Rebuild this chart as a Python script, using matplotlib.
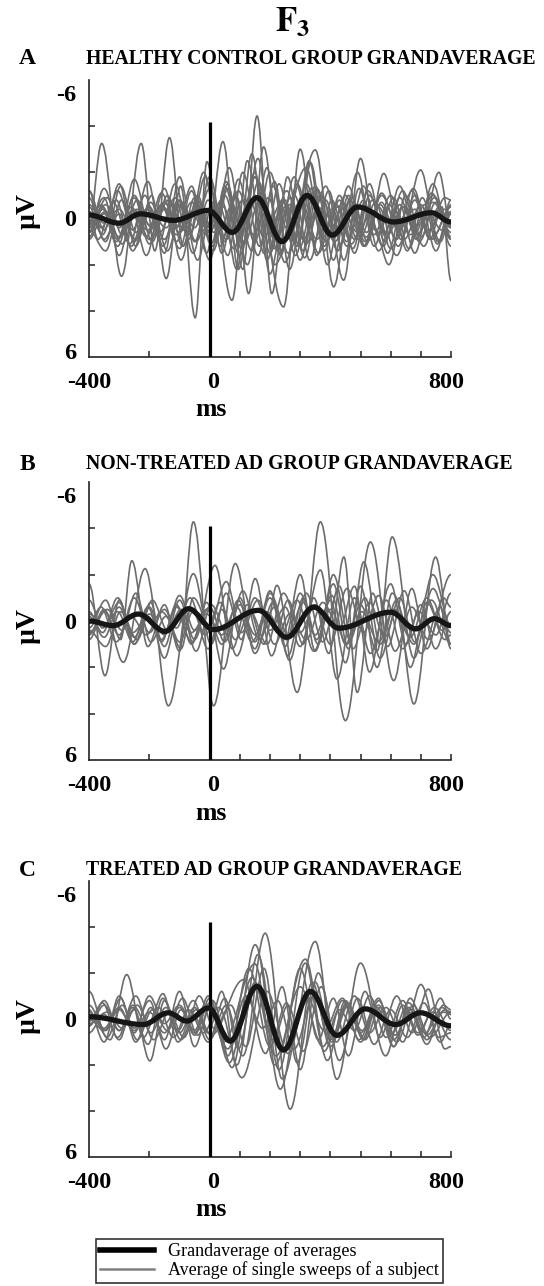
import matplotlib

matplotlib.use("Agg")
import matplotlib.pyplot as plt
from matplotlib.lines import Line2D
from matplotlib.patches import PathPatch
from matplotlib.path import Path

# ---------------------------------------------------------------------------
# Data: (ms, µV) turning points of each trace.
# Negative µV is drawn upwards (EEG convention).
# ---------------------------------------------------------------------------
panel_letters = ["A", "B", "C"]
panel_titles = [
    "HEALTHY CONTROL GROUP GRANDAVERAGE",
    "NON-TREATED AD GROUP GRANDAVERAGE",
    "TREATED AD GROUP GRANDAVERAGE",
]
stim_top = [-4.2, -4.1, -4.2]
x_tick_labels = ["-400", "0", "800"]
y_tick_labels = ["-6", "0", "6"]

grand_a = [(-400, -0.15), (-300, 0.2), (-230, -0.2), (-120, 0.08), (-5, -0.35),
           (75, 0.6), (157, -0.9), (240, 1.0), (323, -1.0), (406, 0.72),
           (490, -0.5), (610, 0.15), (735, -0.25), (800, 0.15)]
grand_b = [(-400, 0.0), (-320, 0.2), (-236, -0.3), (-148, 0.45), (-70, -0.53),
           (13, 0.37), (162, -0.46), (256, 0.7), (345, -0.6), (428, 0.31),
           (600, -0.38), (683, 0.34), (745, -0.1), (800, 0.2)]
grand_c = [(-400, -0.1), (-220, 0.24), (-137, -0.27), (-76, 0.09), (-4, -0.48),
           (68, 0.96), (157, -1.42), (245, 1.35), (334, -1.2), (422, 0.71),
           (516, -0.44), (616, 0.24), (699, -0.27), (800, 0.3)]

subjects_a = [
    [(-400, 0.3), (-358, -3.25), (-292, 2.5), (-227, -3.25), (-182, 1.4), (-133, -3.5), (-88, 1.2), (-40, -1.0), (12, 1.4), (60, -1.3), (112, 1.0), (162, -1.6), (214, 1.3), (268, -0.9), (320, 1.1), (372, -1.0), (424, 1.4), (474, -0.6), (524, 1.0), (577, -1.95), (634, 0.9), (699, -2.1), (757, 1.0), (800, -0.3)],
    [(-400, 0.5), (-345, 1.4), (-292, -0.8), (-245, 1.2), (-192, -1.0), (-144, 2.6), (-96, -1.4), (-48, 4.3), (-9, -2.46), (40, 1.5), (88, -1.0), (129, 3.25), (179, -3.1), (232, 1.5), (282, -1.0), (332, 1.8), (385, -0.8), (444, 2.67), (500, -2.6), (548, 0.5), (594, 2.0), (650, -1.0), (702, 0.8), (760, -2.0), (800, 0.4)],
    [(-400, 0.4), (-340, -0.9), (-290, 0.7), (-240, -0.8), (-190, 1.0), (-140, -1.0), (-90, 1.2), (-40, -0.8), (10, 1.2), (60, -1.5), (110, 2.2), (157, -4.44), (206, 3.25), (258, -1.8), (310, 1.4), (360, -1.2), (411, 2.96), (465, -0.8), (515, 1.0), (570, -0.7), (625, 1.2), (680, -1.0), (735, 0.9), (800, -0.5)],
    [(-400, -0.3), (-355, 0.7), (-305, -1.2), (-255, 0.5), (-205, -1.6), (-155, 1.2), (-105, -0.8), (-55, 1.5), (0, -1.8), (74, 3.54), (125, -2.5), (180, 1.5), (230, -1.5), (280, 1.0), (330, -2.5), (380, 1.2), (430, -0.8), (480, 1.5), (530, -1.0), (585, 0.8), (640, -1.2), (695, 1.0), (750, -0.7), (800, 0.9)],
    [(-400, 0.2), (-360, -0.6), (-310, 1.0), (-260, -0.5), (-210, 1.6), (-160, -0.6), (-110, 1.0), (-60, -1.2), (-10, 1.5), (44, -3.33), (95, 2.2), (150, -1.8), (200, 1.5), (250, -0.8), (300, 1.8), (355, -1.3), (410, 0.9), (460, -1.4), (515, 1.2), (565, -0.6), (620, 0.9), (670, -1.2), (725, 0.6), (780, -0.9), (800, -0.8)],
    [(-400, 0.6), (-350, -1.3), (-300, 0.4), (-250, -0.9), (-200, 1.1), (-150, -0.4), (-100, 1.3), (-50, -0.9), (0, 0.6), (50, -1.0), (100, 1.0), (150, -1.8), (245, 3.83), (300, -3.0), (355, 1.6), (405, -0.8), (455, 1.2), (510, -1.4), (560, 0.6), (610, -0.9), (660, 1.3), (712, -0.6), (765, 1.0), (800, -0.2)],
    [(-400, -1.2), (-350, 0.5), (-300, -1.5), (-250, 1.0), (-200, -0.5), (-150, 1.5), (-100, -1.8), (-50, 1.0), (-5, -0.8), (45, 0.8), (95, -1.2), (150, 1.0), (200, -2.0), (260, 1.5), (350, -2.97), (410, 1.8), (460, -1.0), (510, 1.2), (560, -0.5), (620, 1.6), (680, -0.8), (730, 0.9), (770, -0.5), (800, 2.7)],
    [(-400, -0.3), (-370, 0.9), (-320, -0.7), (-265, 1.1), (-215, -1.0), (-165, 0.9), (-115, -1.5), (-65, 0.7), (-15, -1.8), (35, 1.2), (85, -1.0), (140, 1.4), (190, -2.2), (235, 1.6), (290, -1.5), (345, 1.0), (395, -1.2), (445, 1.8), (495, -1.3), (545, 0.7), (600, -1.0), (655, 1.4), (705, -0.9), (755, 1.1), (800, -0.8)],
    [(-400, 0.8), (-355, -0.4), (-305, 1.2), (-250, -1.0), (-200, 0.6), (-150, -1.3), (-95, 1.8), (-45, -0.6), (5, 1.1), (55, -1.6), (105, 1.3), (160, -2.6), (215, 2.0), (320, -2.2), (380, 1.4), (430, -1.0), (480, 0.9), (530, -1.5), (580, 1.0), (630, -0.6), (680, 1.5), (735, -1.1), (800, 0.6)],
    [(-400, -0.5), (-345, 1.0), (-295, -1.4), (-245, 0.6), (-195, -0.7), (-140, 1.4), (-90, -0.6), (-40, 1.8), (10, -0.7), (60, 1.6), (110, -2.0), (165, 1.2), (215, -1.6), (265, 2.2), (320, -1.5), (375, 0.8), (425, -0.5), (475, 1.3), (525, -1.2), (580, 0.6), (630, -1.4), (685, 0.9), (740, -1.5), (800, 1.2)],
    [(-400, 0.1), (-350, -0.9), (-300, 1.6), (-255, -0.3), (-210, 0.8), (-160, -1.1), (-110, 0.4), (-60, -1.4), (-15, 0.7), (40, -0.8), (90, 2.2), (140, -2.8), (190, 1.8), (240, -0.8), (290, 1.2), (335, -2.4), (390, 2.0), (440, -0.7), (490, 0.9), (540, -0.8), (590, 1.5), (640, -0.5), (690, 0.7), (745, -0.9), (800, 0.9)],
    [(-400, -1.2), (-360, 0.4), (-310, -0.8), (-260, 1.2), (-210, -0.4), (-165, 0.6), (-115, -0.9), (-70, 0.9), (-20, -2.0), (30, 0.6), (75, -0.6), (125, 2.0), (175, -1.2), (225, 1.4), (280, -1.8), (330, 0.4), (385, -1.4), (435, 1.1), (490, -2.0), (545, 1.2), (595, -0.6), (645, 0.9), (700, -0.6), (750, 1.4), (800, -0.6)],
    [(-400, 0.9), (-350, -0.2), (-300, 0.8), (-250, -1.7), (-200, 0.3), (-150, -0.7), (-100, 0.6), (-50, -0.4), (0, 1.8), (50, -1.4), (100, 0.7), (150, -2.0), (200, 2.4), (250, -0.5), (300, 1.2), (350, -1.4), (400, 0.7), (450, -1.0), (500, 0.8), (550, -0.7), (600, 1.3), (655, -0.3), (710, 1.2), (760, -0.5), (800, 0.8)],
    [(-400, 0.3), (-355, -0.5), (-305, 0.9), (-255, -0.2), (-205, 0.5), (-160, -0.6), (-110, 0.7), (-60, -0.3), (-20, 0.5), (30, -0.6), (80, 1.3), (130, -0.9), (180, 0.8), (235, -0.6), (285, 1.6), (335, -1.3), (385, 1.0), (440, -0.4), (490, 0.6), (540, -0.3), (590, 0.7), (640, -0.5), (690, 0.3), (740, -0.7), (800, 0.4)],
    [(-400, -0.6), (-350, 0.2), (-300, -0.4), (-245, 0.9), (-195, -0.3), (-145, 0.4), (-95, -0.6), (-45, 1.0), (0, -0.4), (50, 1.0), (95, -1.7), (145, 0.7), (195, -0.9), (250, 1.9), (305, -0.7), (355, 0.9), (405, -0.4), (455, 1.0), (510, -0.8), (560, 1.4), (615, -0.3), (665, 0.7), (720, -0.3), (770, 0.5), (800, 0.2)],
    [(-400, 0.4), (-345, -0.3), (-290, 1.1), (-240, -0.4), (-190, 0.4), (-135, -0.8), (-85, 0.5), (-35, -0.5), (15, 0.6), (65, -2.2), (115, 1.1), (165, -0.8), (215, 0.9), (265, -0.6), (315, 1.7), (365, -1.0), (420, 0.4), (470, -0.9), (520, 0.6), (570, -1.0), (625, 0.4), (675, -1.3), (725, 0.5), (780, -0.4), (800, -0.2)],
    [(-400, -0.9), (-350, 0.9), (-300, -0.2), (-255, 1.4), (-200, -0.5), (-150, 0.9), (-100, -0.8), (-50, 0.4), (0, -1.3), (55, 0.9), (110, -0.8), (160, 1.6), (210, -1.4), (255, 0.4), (310, -1.0), (360, 1.5), (420, -0.6), (470, 1.1), (520, -0.4), (575, 1.2), (630, -0.9), (680, 0.6), (740, -1.0), (800, 0.3)],
    [(-400, 0.6), (-345, -0.6), (-300, 0.3), (-250, -0.4), (-200, 0.9), (-155, -0.5), (-105, 0.3), (-60, -0.7), (-10, 0.4), (45, -0.5), (100, 1.6), (150, -1.0), (205, 0.6), (255, -1.2), (310, 0.9), (360, -0.5), (415, 1.0), (465, -0.4), (520, 0.8), (570, -1.1), (625, 0.5), (680, -0.4), (735, 0.9), (800, -0.5)],
]

subjects_b = [
    [(-400, 0.3), (-345, -0.9), (-295, 0.8), (-258, -2.6), (-205, 1.1), (-150, -0.7), (-100, 1.3), (-54, -4.28), (13, 3.66), (85, -2.48), (150, 1.4), (210, -0.8), (260, 1.5), (310, -1.0), (355, 0.8), (410, -1.6), (460, 1.2), (511, -2.55), (565, 1.0), (620, -0.9), (677, 3.58), (749, -2.76), (800, 1.0)],
    [(-400, -1.6), (-347, 2.36), (-300, -0.9), (-250, 1.0), (-195, -0.8), (-137, 3.66), (-54, -2.04), (5, 1.0), (55, -1.2), (105, 0.8), (151, -1.83), (205, 1.5), (260, -0.9), (310, 1.0), (367, -4.28), (450, 4.3), (533, -3.41), (610, 2.57), (670, -1.4), (720, 1.2), (775, -1.0), (800, -0.6)],
    [(-400, 0.6), (-350, -0.5), (-286, 1.78), (-214, -2.26), (-160, 0.9), (-110, -0.7), (-60, 1.0), (-10, -0.8), (46, 2.07), (100, -1.0), (150, 0.9), (200, -1.3), (250, 1.1), (300, -1.2), (350, 0.6), (405, -1.1), (450, 1.0), (500, -0.7), (555, 1.3), (605, -3.63), (677, 1.6), (740, -1.4), (800, 0.5)],
    [(-400, -0.4), (-355, 0.5), (-305, -1.0), (-250, 0.7), (-200, -0.6), (-150, 1.1), (-100, -0.9), (-50, 0.8), (18, -2.4), (75, 1.2), (125, -0.7), (180, 1.0), (223, -1.54), (290, 3.08), (345, -1.0), (395, 1.4), (445, -2.76), (489, 3.08), (540, -1.2), (590, 1.1), (645, -1.3), (700, 1.4), (765, -0.6), (800, 1.2)],
    [(-400, 0.8), (-350, -0.4), (-300, 0.6), (-250, -1.0), (-200, 0.5), (-150, -0.5), (-100, 0.9), (-55, -0.4), (-5, 1.2), (40, -0.5), (90, 1.5), (150, -1.0), (200, 0.4), (250, -0.6), (300, 1.1), (367, -2.2), (422, 2.5), (480, -1.0), (533, 1.4), (600, -1.6), (650, 1.0), (700, -0.7), (749, 1.2), (800, -0.4)],
    [(-400, -0.2), (-350, 0.7), (-300, -0.6), (-250, 1.0), (-200, -0.3), (-150, 0.6), (-100, -1.1), (-50, 0.4), (0, -0.6), (50, 0.9), (100, -0.7), (151, 0.6), (200, -1.0), (250, 0.8), (300, -2.0), (350, 1.3), (400, -0.9), (450, 1.8), (500, -1.5), (555, 2.0), (605, -1.2), (677, 1.0), (740, -2.0), (800, 0.2)],
    [(-400, 0.4), (-345, 1.1), (-295, -0.4), (-240, 0.8), (-190, -0.9), (-140, 0.4), (-95, -0.5), (-45, 1.3), (5, -0.7), (60, 0.6), (110, -1.3), (165, 0.8), (215, -0.6), (265, 1.7), (320, -1.2), (375, 0.9), (430, -1.5), (475, 1.2), (530, -0.8), (580, 0.7), (630, -1.0), (680, 0.9), (735, -0.9), (800, 1.0)],
    [(-400, -0.9), (-355, 0.3), (-305, -0.4), (-255, 0.9), (-205, -0.6), (-150, 1.6), (-105, -0.2), (-60, 0.9), (-10, -0.5), (40, 1.0), (95, -0.9), (150, 1.2), (200, -1.2), (260, 0.6), (310, -0.8), (360, 1.0), (410, -2.0), (465, 0.8), (515, -1.0), (565, 1.6), (620, -0.5), (665, 2.0), (720, -0.8), (780, 0.8), (800, 0.6)],
    [(-400, 0.1), (-360, -0.6), (-310, 0.9), (-260, -0.2), (-210, 0.6), (-160, -0.4), (-110, 0.3), (-65, -1.0), (-15, 0.6), (35, -0.8), (85, 0.8), (135, -0.4), (190, 1.0), (245, -1.2), (300, 0.5), (350, -0.7), (400, 1.0), (455, -1.4), (510, 0.5), (560, -1.1), (615, 1.3), (670, -0.6), (725, 0.8), (800, -2.0)],
    [(-400, -0.3), (-350, 0.2), (-300, -0.8), (-255, 0.5), (-205, -0.2), (-160, 0.8), (-110, -0.6), (-60, 0.5), (-10, -0.3), (40, 0.6), (90, -0.6), (140, 0.9), (190, -0.4), (240, 0.5), (290, -0.9), (345, 1.3), (400, -0.5), (455, 1.0), (505, -0.4), (560, 0.9), (610, -0.5), (665, 0.7), (720, -1.0), (770, 0.4), (800, 0.1)],
    [(-400, 0.5), (-340, -0.5), (-290, 0.4), (-245, -1.2), (-195, 0.9), (-145, -0.2), (-95, 1.2), (-54, -1.0), (0, 0.2), (55, -1.7), (105, 0.5), (160, -0.9), (215, 1.0), (265, -0.3), (320, 0.8), (375, -0.8), (430, 0.3), (480, -1.5), (530, 2.2), (585, -0.9), (640, 1.2), (695, -0.4), (750, 0.6), (800, -1.2)],
]

subjects_c = [
    [(-400, 0.3), (-350, -0.6), (-300, 0.5), (-250, -0.4), (-198, 1.82), (-150, -0.8), (-100, 0.6), (-50, -0.5), (0, 0.9), (55, -0.6), (110, 1.6), (184, -3.73), (267, 3.92), (340, -1.6), (400, 1.2), (460, -0.6), (515, 0.9), (565, -0.5), (620, 1.0), (675, -0.6), (730, 0.8), (800, -0.3)],
    [(-400, -1.2), (-340, 0.8), (-290, -0.6), (-240, 0.9), (-190, -0.4), (-140, 0.5), (-90, -0.9), (-40, 0.7), (10, -0.8), (74, 2.11), (151, -3.23), (234, 3.05), (317, -2.43), (380, 1.4), (440, -0.8), (500, 1.0), (555, -0.5), (610, 1.2), (665, -0.9), (720, 0.7), (780, -0.4), (800, -0.3)],
    [(-400, -0.3), (-330, 0.9), (-275, -1.93), (-220, 0.8), (-170, -0.5), (-120, 0.8), (-70, -0.4), (-20, 0.6), (30, -0.5), (107, 2.55), (190, -1.2), (260, 1.5), (350, -3.37), (422, 2.62), (500, -2.43), (583, 1.6), (640, -0.6), (690, 0.7), (745, -0.5), (800, 0.5)],
    [(-400, 0.3), (-350, -0.8), (-300, 0.5), (-245, -1.0), (-195, 0.6), (-145, -0.5), (-95, 0.9), (-45, -0.4), (5, 0.7), (112, -1.71), (185, 1.5), (240, -1.4), (290, 1.9), (350, -1.6), (405, 1.0), (455, -0.6), (510, 0.9), (560, -0.8), (615, 0.7), (665, -0.4), (720, 1.1), (775, -0.6), (800, -0.4)],
    [(-400, -0.6), (-345, 0.5), (-295, -0.9), (-245, 1.0), (-195, -0.5), (-145, 1.3), (-95, -0.4), (-50, 0.7), (0, -0.9), (60, 1.6), (130, -2.2), (200, 1.2), (255, -0.7), (300, 2.2), (360, -2.0), (420, 1.0), (480, -1.0), (530, 0.6), (585, -0.5), (640, 1.0), (700, -1.5), (760, 0.8), (800, 0.6)],
    [(-400, 0.1), (-355, -0.7), (-305, 0.8), (-255, -0.5), (-205, 1.1), (-155, -0.9), (-105, 0.5), (-55, -0.8), (-5, 0.6), (40, -1.2), (90, 2.0), (160, -2.8), (230, 2.2), (300, -2.2), (360, 0.9), (410, -0.9), (460, 1.6), (515, -1.2), (565, 0.8), (620, -1.0), (670, 0.6), (725, -1.3), (780, 1.3), (800, 1.2)],
    [(-400, -0.4), (-350, 1.0), (-300, -1.0), (-250, 0.4), (-200, -0.8), (-150, 0.9), (-100, -1.2), (-50, 1.2), (0, -0.5), (45, 1.0), (150, -2.4), (215, 2.0), (317, -2.6), (390, 1.8), (450, -0.8), (500, 0.6), (560, -0.9), (610, 1.2), (660, -0.5), (710, 0.8), (765, -0.9), (800, 0.0)],
    [(-400, 0.6), (-350, -0.2), (-300, 0.9), (-255, -0.6), (-205, 0.3), (-155, -1.1), (-105, 1.0), (-55, -0.2), (-5, 1.0), (50, -0.9), (95, 1.3), (150, -1.6), (210, 0.9), (260, -0.6), (310, 1.4), (370, -1.4), (430, 1.8), (490, -0.9), (545, 1.1), (600, -0.4), (655, 0.8), (710, -0.7), (765, 1.0), (800, 0.2)],
    [(-400, -0.2), (-350, 0.4), (-300, -0.5), (-250, 0.6), (-200, -1.0), (-150, 0.2), (-100, -0.6), (-50, 0.5), (-5, -1.0), (65, 1.9), (140, -1.8), (220, 1.6), (300, -1.4), (375, 1.2), (430, -0.4), (480, 0.5), (530, -1.0), (585, 0.8), (640, -0.8), (690, 0.6), (740, -0.3), (800, 0.9)],
    [(-400, 0.0), (-350, 0.5), (-300, -0.4), (-250, 0.5), (-200, -0.3), (-150, 0.6), (-100, -0.5), (-50, 0.6), (0, -0.7), (60, 1.3), (120, -1.0), (175, 0.4), (225, -0.8), (280, 1.3), (345, -1.0), (400, 0.9), (455, -0.7), (505, 0.5), (560, -0.6), (610, 0.9), (660, -0.3), (715, 0.6), (770, -0.5), (800, -0.2)],
    [(-400, 0.2), (-340, -0.3), (-290, 0.4), (-240, -0.6), (-185, 0.9), (-135, -0.3), (-85, 0.8), (-35, -1.0), (15, 0.4), (70, -0.6), (120, 1.2), (180, -2.2), (240, 2.6), (320, -1.0), (380, 0.5), (440, -0.9), (495, 0.9), (550, -0.4), (605, 0.6), (660, -0.7), (720, 0.9), (775, -0.3), (800, -0.2)],
]

W, H = 544, 1286
GRAY = "#6c6c6c"
BLACK = "#161616"

plt.rcParams.update({
    "font.family": ["Liberation Serif", "DejaVu Serif"],
    "mathtext.fontset": "stix",
    "axes.unicode_minus": False,
})


def smooth_path(points, k=0.36):
    """Cubic Bezier through the turning points, flat tangent at each one."""
    verts = [points[0]]
    codes = [Path.MOVETO]
    for (t0, v0), (t1, v1) in zip(points[:-1], points[1:]):
        dt = t1 - t0
        verts += [(t0 + k * dt, v0), (t1 - k * dt, v1), (t1, v1)]
        codes += [Path.CURVE4] * 3
    return Path(verts, codes)


def px_rect(top, bottom, left=89, right=451):
    return [left / W, 1 - bottom / H, (right - left) / W, (bottom - top) / H]


fig = plt.figure(figsize=(W / 100, H / 100), dpi=100)
fig.patch.set_facecolor("white")

panels = [
    (subjects_a, grand_a, (80, 357), 59, 211),
    (subjects_b, grand_b, (482, 760), 464, 626),
    (subjects_c, grand_c, (881, 1157), 870, 1016),
]

for i, (subjects, grand, (top, bottom), title_y, mu_y) in enumerate(panels):
    ax = fig.add_axes(px_rect(top, bottom))
    for trace in subjects:
        ax.add_patch(PathPatch(smooth_path(trace), fill=False, edgecolor=GRAY,
                               lw=1.2, zorder=2))
    ax.vlines(0, 6, stim_top[i], color="black", lw=2.3, zorder=3)
    ax.add_patch(PathPatch(smooth_path(grand), fill=False, edgecolor=BLACK,
                           lw=3.8, capstyle="round", zorder=4))

    ax.set_xlim(-400, 800)
    ax.set_ylim(6, -6)
    for side in ("top", "right"):
        ax.spines[side].set_visible(False)
    for side in ("left", "bottom"):
        ax.spines[side].set_linewidth(1.2)
        ax.spines[side].set_color("#222222")

    ax.set_xticks([-400, 10, 785], labels=x_tick_labels)
    ax.set_xticks([-200, 0, 100, 200, 300, 400, 500, 600, 700, 800], minor=True)
    ax.set_yticks([-5.45, 0, 5.75], labels=y_tick_labels)
    ax.set_yticks([-4, -2, 0, 2, 4], minor=True)
    ax.tick_params(which="major", length=0, labelsize=17.5)
    ax.tick_params(axis="x", which="major", pad=11)
    ax.tick_params(axis="y", which="major", pad=9)
    ax.tick_params(which="minor", direction="in", length=4, width=1.1,
                   color="#222222")
    for lab in ax.get_xticklabels() + ax.get_yticklabels():
        lab.set_fontweight("bold")

    fig.text(28 / W, 1 - mu_y / H, "µV", rotation=90, ha="center",
             va="center", fontsize=20, fontweight="bold")
    fig.text(211 / W, 1 - (bottom + 53) / H, "ms", ha="center", va="center",
             fontsize=18.5, fontweight="bold")
    fig.text(27 / W, 1 - title_y / H, panel_letters[i], ha="center",
             va="center", fontsize=17, fontweight="bold")
    fig.text(86 / W, 1 - title_y / H, panel_titles[i], ha="left",
             va="center", fontsize=14.2, fontweight="bold")

fig.text(293 / W, 1 - 22 / H, r"$\mathbf{F_3}$", ha="center", va="center",
         fontsize=25)

handles = [
    Line2D([], [], color="black", lw=4.0),
    Line2D([], [], color="#808080", lw=1.8),
]
leg = fig.legend(
    handles,
    ["Grandaverage of averages", "Average of single sweeps of a subject"],
    loc="upper left",
    bbox_to_anchor=(96 / W, 1 - 1239 / H),
    frameon=True,
    fancybox=False,
    fontsize=13,
    handlelength=3.0,
    handletextpad=0.8,
    labelspacing=0.05,
    borderpad=0.2,
    borderaxespad=0,
)
leg.get_frame().set_edgecolor("black")
leg.get_frame().set_linewidth(1.2)

fig.savefig("out.png", dpi=100, facecolor="white")
